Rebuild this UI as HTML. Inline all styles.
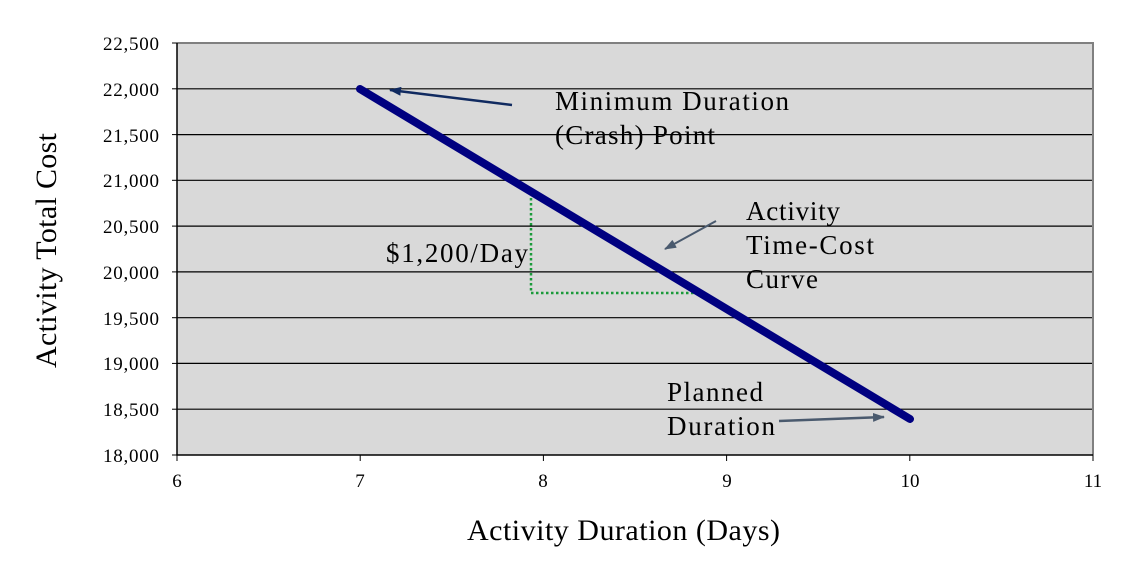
<!DOCTYPE html>
<html><head><style>body{margin:0;background:#fff}svg{display:block}text{font-family:"Liberation Serif",serif;fill:#000}</style></head>
<body>
<svg width="1132" height="573" viewBox="0 0 1132 573" xmlns="http://www.w3.org/2000/svg">
<defs>
<marker id="a1" markerWidth="12" markerHeight="9" refX="11" refY="4.5" orient="auto" markerUnits="userSpaceOnUse"><path d="M0,0 L12,4.5 L0,9 z" fill="#102a60"/></marker>
<marker id="a2" markerWidth="12" markerHeight="9" refX="11" refY="4.5" orient="auto" markerUnits="userSpaceOnUse"><path d="M0,0 L12,4.5 L0,9 z" fill="#4a5a6e"/></marker>
</defs>
<rect x="177" y="43" width="916" height="412" fill="#d9d9d9"/>
<g stroke="#000" stroke-width="1.2">
<line x1="177" y1="88.8" x2="1093" y2="88.8"/><line x1="177" y1="134.6" x2="1093" y2="134.6"/><line x1="177" y1="180.3" x2="1093" y2="180.3"/><line x1="177" y1="226.1" x2="1093" y2="226.1"/><line x1="177" y1="271.9" x2="1093" y2="271.9"/><line x1="177" y1="317.7" x2="1093" y2="317.7"/><line x1="177" y1="363.4" x2="1093" y2="363.4"/><line x1="177" y1="409.2" x2="1093" y2="409.2"/>
</g>
<path d="M177,43 H1093 V455" fill="none" stroke="#808080" stroke-width="2"/>
<path d="M177,43 V455 H1093" fill="none" stroke="#000" stroke-width="1.5"/>
<g stroke="#000" stroke-width="1">
<line x1="172" y1="43" x2="177" y2="43"/><line x1="172" y1="88.8" x2="177" y2="88.8"/><line x1="172" y1="134.6" x2="177" y2="134.6"/><line x1="172" y1="180.3" x2="177" y2="180.3"/><line x1="172" y1="226.1" x2="177" y2="226.1"/><line x1="172" y1="271.9" x2="177" y2="271.9"/><line x1="172" y1="317.7" x2="177" y2="317.7"/><line x1="172" y1="363.4" x2="177" y2="363.4"/><line x1="172" y1="409.2" x2="177" y2="409.2"/><line x1="172" y1="455" x2="177" y2="455"/>
<line x1="177" y1="455" x2="177" y2="461"/><line x1="360.2" y1="455" x2="360.2" y2="461"/><line x1="543.4" y1="455" x2="543.4" y2="461"/><line x1="726.6" y1="455" x2="726.6" y2="461"/><line x1="909.8" y1="455" x2="909.8" y2="461"/><line x1="1093" y1="455" x2="1093" y2="461"/>
</g>
<g font-size="19" text-anchor="end">
<text x="159" y="50" textLength="56">22,500</text><text x="159" y="96" textLength="56">22,000</text><text x="159" y="142" textLength="56">21,500</text><text x="159" y="187" textLength="56">21,000</text><text x="159" y="233" textLength="56">20,500</text><text x="159" y="279" textLength="56">20,000</text><text x="159" y="325" textLength="56">19,500</text><text x="159" y="370" textLength="56">19,000</text><text x="159" y="416" textLength="56">18,500</text><text x="159" y="462" textLength="56">18,000</text>
</g>
<g font-size="19" text-anchor="middle">
<text x="177" y="487">6</text><text x="360" y="487">7</text><text x="543" y="487">8</text><text x="727" y="487">9</text><text x="910" y="487">10</text><text x="1093" y="487">11</text>
</g>
<text x="467" y="540" font-size="30" textLength="313">Activity Duration (Days)</text>
<text transform="translate(56,368) rotate(-90)" font-size="30" textLength="235">Activity Total Cost</text>
<path d="M531,188 V293 H697" fill="none" stroke="#1a9a3a" stroke-width="2.5" stroke-dasharray="2.5,2.5"/>
<line x1="360" y1="89" x2="910" y2="419" stroke="#000080" stroke-width="8" stroke-linecap="round"/>
<line x1="512" y1="105" x2="390" y2="90" stroke="#102a60" stroke-width="2.5" marker-end="url(#a1)"/>
<line x1="716" y1="221" x2="665" y2="249" stroke="#4a5a6e" stroke-width="2" marker-end="url(#a2)"/>
<line x1="779" y1="421" x2="884" y2="417" stroke="#4a5a6e" stroke-width="2.5" marker-end="url(#a2)"/>
<g font-size="27">
<text x="555" y="110" textLength="234">Minimum Duration</text><text x="555" y="144" textLength="160">(Crash) Point</text>
<text x="746" y="220" textLength="94">Activity</text><text x="746" y="254" textLength="128">Time-Cost</text><text x="746" y="288" textLength="72">Curve</text>
<text x="386" y="262" textLength="142">$1,200/Day</text>
<text x="667" y="401" textLength="96">Planned</text><text x="667" y="435" textLength="108">Duration</text>
</g>
</svg>
</body></html>
